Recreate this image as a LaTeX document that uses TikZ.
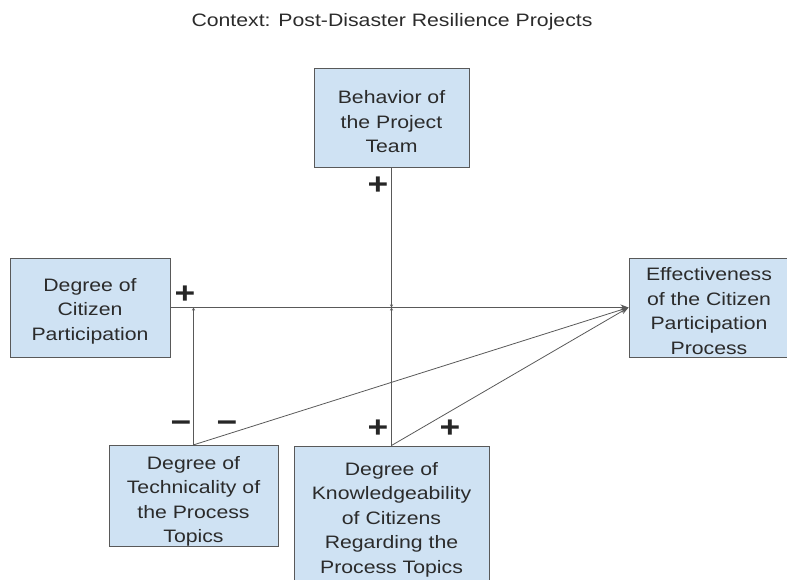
\documentclass[tikz,border=0pt]{standalone}
\usepackage{fontspec}
\setmainfont{Liberation Sans}[FakeStretch=1.18]
\usepackage{xcolor}
\usetikzlibrary{arrows.meta}
\definecolor{boxblue}{HTML}{CFE2F3}
\definecolor{linegray}{HTML}{595959}
\definecolor{textgray}{HTML}{2B2B2B}
% extra room above the first line of a box
\newcommand{\lift}[1][20pt]{\rule{0pt}{#1}}

\begin{document}
\begin{tikzpicture}[x=1pt,y=-1pt,>={Stealth[length=8pt,width=6pt]},
  factor/.style={draw=linegray, line width=1pt, fill=boxblue, text=textgray,
    align=center, inner sep=0pt, font=\fontsize{18}{24.5}\selectfont},
  link/.style={draw=linegray, line width=0.8pt},
  smallarr/.style={-{Stealth[length=3pt,width=3pt]}},
  sign/.style={text=black!85, inner sep=0pt, font=\fontsize{30}{30}\bfseries\selectfont}]
  \useasboundingbox (0,0) rectangle (787,580);
  % Title
  \node[text=textgray, font=\fontsize{18}{22}\selectfont] (title) at (392,22)
    {Context: Post-Disaster Resilience Projects};
  % Factors
  \node[factor, minimum width=155, minimum height=99] (team) at (391.5,118.5)
    {\lift Behavior of\\the Project\\Team};
  \node[factor, minimum width=160, minimum height=99] (part) at (90,307.5)
    {\lift Degree of\\Citizen\\Participation};
  \node[factor, minimum width=160, minimum height=99] (eff) at (709,307.5)
    {\lift Effectiveness\\of the Citizen\\Participation\\Process};
  \node[factor, minimum width=169, minimum height=101] (tech) at (193.5,496)
    {\lift[24pt]Degree of\\Technicality of\\the Process\\Topics};
  \node[factor, minimum width=195, minimum height=140] (know) at (391.5,516)
    {\lift Degree of\\Knowledgeability\\of Citizens\\Regarding the\\Process Topics};
  % Junctions on the main link
  \coordinate (jteam) at (team.south |- part.east);
  \coordinate (jtech) at (tech.north |- part.east);
  % Links
  \draw[link,->] (part.east) -- (eff.west);
  \draw[link,smallarr] (team.south) -- (jteam);
  \draw[link,smallarr] (know.north) -- (jteam);
  \draw[link,smallarr] (tech.north) -- (jtech);
  \draw[link,->] (tech.north) -- (eff.west);
  \draw[link,->] (know.north) -- (eff.west);
  % Signs
  \node[sign] (spart) at (185,295) {+};
  \node[sign] (steam) at (378,186) {+};
  \node[sign] (stechv) at (181,427) {−};
  \node[sign] (stechd) at (227,427) {−};
  \node[sign] (sknowv) at (378,429) {+};
  \node[sign] (sknowd) at (450,429) {+};
\end{tikzpicture}
\end{document}
